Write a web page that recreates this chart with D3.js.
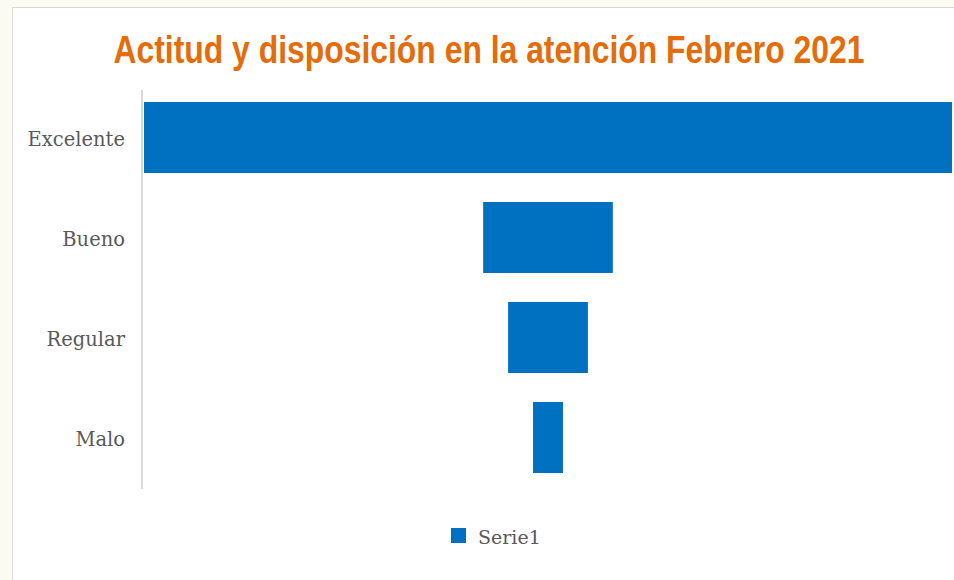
<!DOCTYPE html>
<html lang="es">
<head>
    <meta charset="UTF-8">
    <title>Embudo</title>
    <script src="https://d3js.org/d3.v7.min.js"></script>
    <style>
        body {margin: 0; background: #fbfaf3;}
        svg {display: block;}
    </style>
</head>
<body>
    <div id="chart"></div>
<script>
// Datos del embudo
var categorias = ["Excelente", "Bueno", "Regular", "Malo"];
var serie1 = [81, 13, 8, 3];
var nombreSerie = "Serie1";
var titulo = "Actitud y disposición en la atención Febrero 2021";

var width = 954, height = 580;
var plotLeft = 144, plotRight = 952, plotTop = 90, plotBottom = 485;
var maxVal = d3.max(serie1);

var svg = d3.select("#chart").append("svg")
    .attr("width", width)
    .attr("height", height);

// Fondo del gráfico
svg.append("rect")
    .attr("x", 12.5).attr("y", 7.5)
    .attr("width", 960).attr("height", 600)
    .attr("fill", "white")
    .attr("stroke", "#d9d9d9");

// Escalas: barras centradas
var xScale = d3.scaleLinear()
    .domain([-maxVal / 2, maxVal / 2])
    .range([plotLeft, plotRight]);

var yScale = d3.scaleBand()
    .domain(categorias)
    .range([plotTop, plotBottom])
    .paddingInner(0.29)
    .paddingOuter(0.12);

// Barras
svg.selectAll("rect.bar")
    .data(serie1)
    .enter()
    .append("rect")
        .attr("class", "bar")
        .attr("x", function(d){ return xScale(-d / 2); })
        .attr("y", function(d, i){ return yScale(categorias[i]); })
        .attr("width", function(d){ return xScale(d / 2) - xScale(-d / 2); })
        .attr("height", yScale.bandwidth())
        .attr("fill", "#0070c0");

// Eje vertical
var yAxis = d3.axisLeft(yScale).tickSize(0).tickPadding(17);
var gy = svg.append("g")
    .attr("transform", "translate(142,0)")
    .call(yAxis);
gy.select(".domain").attr("stroke", "#d9d9d9").attr("stroke-width", 2)
    .attr("d", "M0," + plotTop + "V" + (plotBottom + 4));
gy.selectAll("text")
    .attr("dy", "0.45em")
    .attr("font-family", "'DejaVu Serif', serif")
    .attr("font-size", "19.5px")
    .attr("fill", "#595959");

// Titulo
svg.append("text")
    .attr("x", 489)
    .attr("y", 63)
    .attr("text-anchor", "middle")
    .attr("font-family", "'Liberation Sans Narrow', 'Arial Narrow', 'Liberation Sans', sans-serif")
    .attr("font-weight", "bold")
    .attr("font-size", "38px")
    .attr("textLength", 751)
    .attr("lengthAdjust", "spacingAndGlyphs")
    .attr("fill", "#e46c0a")
    .text(titulo);

// Leyenda
svg.append("rect")
    .attr("x", 451).attr("y", 528)
    .attr("width", 15).attr("height", 15)
    .attr("fill", "#0070c0");
svg.append("text")
    .attr("x", 478).attr("y", 544)
    .attr("font-family", "'DejaVu Serif', serif")
    .attr("font-size", "19px")
    .attr("fill", "#595959")
    .text(nombreSerie);
</script>
</body>
</html>
